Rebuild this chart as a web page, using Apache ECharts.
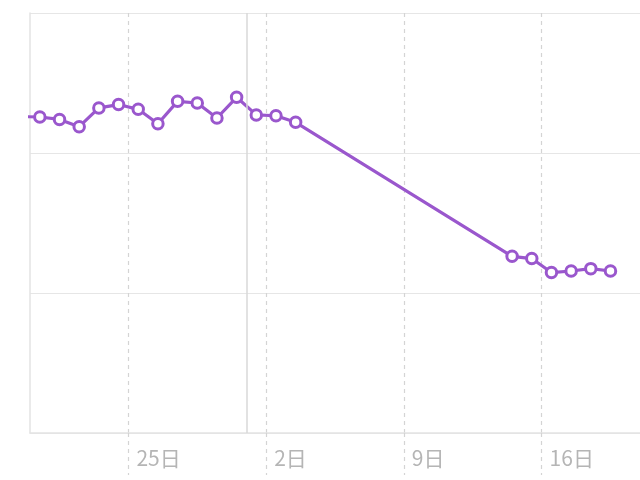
<!DOCTYPE html>
<html>
<head>
<meta charset="utf-8">
<script src="https://cdn.jsdelivr.net/npm/echarts@6/dist/echarts.min.js"></script>
<style>html,body{margin:0;padding:0;background:#fff}#c{width:640px;height:480px}</style>
</head>
<body>
<div id="c"></div>
<script>
const dates = ['2023-11-19','2023-11-20','2023-11-21','2023-11-22','2023-11-23','2023-11-24','2023-11-25','2023-11-26',
  '2023-11-27','2023-11-28','2023-11-29','2023-11-30','2023-12-01','2023-12-02','2023-12-03',
  '2023-12-14','2023-12-15','2023-12-16','2023-12-17','2023-12-18','2023-12-19'];
const values = [226.0,225.7,224.0,218.8,232.2,234.6,231.2,220.9,236.9,235.7,225.0,239.8,227.2,226.6,221.9,
  126.2,124.6,114.6,115.7,117.4,115.7];
const tickDates = ['2023-11-25','2023-12-02','2023-12-09','2023-12-16'];
const monthStart = '2023-12-01';
const rangeStart = '2023-11-20';
const rangeEnd = '2023-12-21';

function utc(s){const p=s.split('-').map(Number);return Date.UTC(p[0],p[1]-1,p[2]);}
const base = utc(rangeStart);
const DAY = 86400000;
function dayNum(s){return (utc(s)-base)/DAY;}
function dayOfMonth(v){return new Date(base+Math.round(v)*DAY).getUTCDate();}

const tickDays = tickDates.map(dayNum);
const seriesData = dates.map((d,i)=>[dayNum(d)+0.5, values[i]]);
const purple = '#9a57cd';
const font = '"Noto Sans CJK JP", "Noto Sans", sans-serif';

const chart = echarts.init(document.getElementById('c'));
chart.setOption({
  animation:false,
  grid:{left:30,right:-1,top:13,bottom:47,containLabel:false},
  xAxis:{
    type:'value', min:0, max:dayNum(rangeEnd),
    axisLine:{show:true,lineStyle:{color:'#e3e3e3',width:1.5}},
    axisTick:{show:true,customValues:tickDays,length:42,lineStyle:{color:'#d4d4d4',type:[4,4],width:1.2}},
    splitLine:{show:true,lineStyle:{color:'#d4d4d4',type:[4,4],width:1.2}},
    axisLabel:{show:true,customValues:tickDays,formatter:v=>dayOfMonth(v)+'日',
      align:'left',padding:[0,0,0,8],margin:15,fontSize:21,color:'#b5b5b5',fontFamily:font}
  },
  yAxis:{
    type:'value', min:0, max:300, interval:100,
    axisLine:{show:true,lineStyle:{color:'#e3e3e3',width:1.5}},
    axisTick:{show:false}, axisLabel:{show:false},
    splitLine:{show:true,lineStyle:{color:'#e6e6e6',width:1.2}}
  },
  series:[{
    type:'line', data:seriesData, showAllSymbol:true, clip:true,
    symbol:'circle', symbolSize:10.5,
    lineStyle:{color:purple,width:3.2},
    itemStyle:{color:'#fff',borderColor:purple,borderWidth:3},
    markLine:{silent:true,symbol:'none',label:{show:false},
      lineStyle:{color:'#d8d8d8',type:'solid',width:1.5},
      data:[{xAxis:dayNum(monthStart)}]}
  }]
});
</script>
</body>
</html>
